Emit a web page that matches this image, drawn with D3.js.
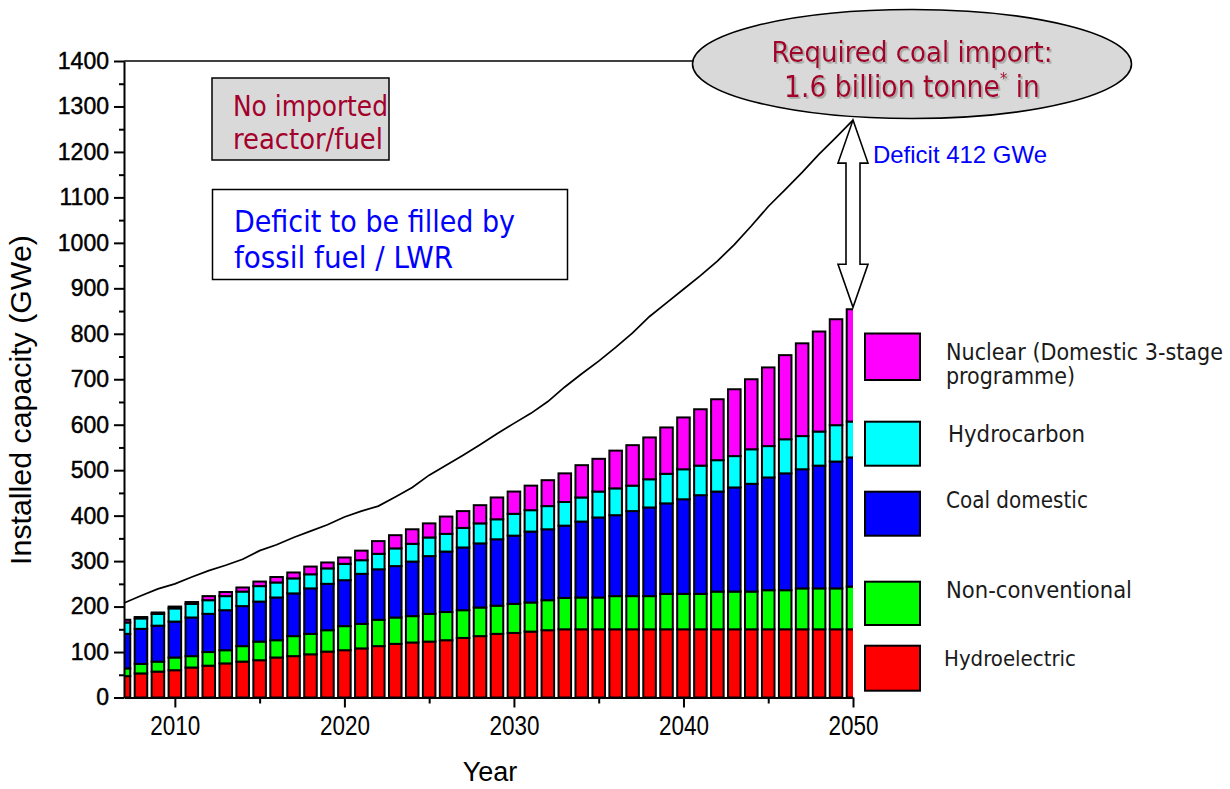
<!DOCTYPE html>
<html><head><meta charset="utf-8">
<script src="https://cdn.jsdelivr.net/npm/d3@7"></script>
<style>body{margin:0;background:#fff} svg{display:block}</style>
</head><body><svg id="c" width="1230" height="789"></svg>
<script>
// ---------------- data ----------------
const years = [2007,2008,2009,2010,2011,2012,2013,2014,2015,2016,2017,2018,2019,2020,2021,2022,2023,2024,2025,2026,2027,2028,
  2029,2030,2031,2032,2033,2034,2035,2036,2037,2038,2039,2040,2041,2042,2043,2044,2045,2046,2047,2048,2049,2050];
const hydroelectric = [47,53,57,60,66,70,75,79,82,88,91,95,101,104,108,113,118,121,123,126,131,135,
  140,142,145,148,150,150,150,150,150,150,150,150,150,150,150,150,150,150,150,150,150,150];
const nonConventional = [17,21,22,28,25,30,29,34,41,38,44,45,47,53,54,58,58,58,61,62,61,63,
  62,64,64,66,69,70,70,73,73,73,78,78,78,83,83,83,86,86,90,90,90,94];
const coalDomestic = [76,77,79,79,85,84,88,88,88,94,94,100,102,101,110,111,113,120,127,133,138,141,
  146,150,156,156,159,167,176,178,187,195,199,208,217,220,229,237,248,257,262,270,279,284];
const hydrocarbon = [25,23,26,29,30,30,31,32,34,33,33,31,34,36,30,34,39,39,41,39,43,44,
  44,48,47,51,52,53,57,59,56,62,65,66,65,69,69,76,69,75,73,75,80,79];
const nuclear = [6,3,3,4,4,9,9,9,10,12,13,17,13,14,21,28,29,32,31,38,37,40,
  48,49,54,57,63,71,72,83,89,92,102,114,124,134,147,154,173,185,204,220,233,247];
const requirement = [208,224,239,250,265,279,291,304,323,336,352,366,380,397,410,421,441,462,489,511,533,556,
  580,603,625,651,683,712,740,770,802,838,868,898,928,960,996,1037,1080,1117,1155,1195,1232,1270];

const seriesNames = ["Hydroelectric","Non-conventional","Coal domestic","Hydrocarbon","Nuclear"];
const seriesColors = ["#ff0000","#00ff00","#0000ff","#00ffff","#ff00ff"];
const legendLabels = [["Nuclear (Domestic 3-stage","programme)"],["Hydrocarbon"],["Coal domestic"],["Non-conventional"],["Hydroelectric"]];
const yTickValues = [0,100,200,300,400,500,600,700,800,900,1000,1100,1200,1300,1400];
const yMinorTicks = [50,150,250,350,450,550,650,750,850,950,1050,1150,1250,1350];
const xTickValues = [2010,2020,2030,2040,2050];
const xMinorTicks = [2015,2025,2035,2045];
const deficitLabel = "Deficit 412 GWe";

// ---------------- layout ----------------
const svg = d3.select("#c");
const X0 = 124, X1 = 853, Y0 = 697.5, Y1 = 61;
const x = d3.scaleLinear().domain([2007, 2050]).range([X0, X1]);
const y = d3.scaleLinear().domain([0, 1400]).range([Y0, Y1]);
const TAHOMA = "'DejaVu Sans Condensed','DejaVu Sans',sans-serif";
const ARIAL = "'Liberation Sans',Arial,sans-serif";

function fit(sel, target) {
  const fs = parseFloat(sel.attr("font-size"));
  const w = sel.node().getComputedTextLength();
  if (w > 0) sel.attr("font-size", (fs * target / w).toFixed(2));
  return sel;
}

const table = years.map((yr, i) => ({
  year: yr,
  "Hydroelectric": hydroelectric[i],
  "Non-conventional": nonConventional[i],
  "Coal domestic": coalDomestic[i],
  "Hydrocarbon": hydrocarbon[i],
  "Nuclear": nuclear[i]
}));
const stacked = d3.stack().keys(seriesNames)(table);

const defs = svg.append("defs");
defs.append("clipPath").attr("id", "plotclip")
  .append("rect").attr("x", X0).attr("y", 0).attr("width", X1 - X0).attr("height", Y0);
defs.append("filter").attr("id", "shadow").attr("x", "-5%").attr("y", "-20%").attr("width", "110%").attr("height", "140%")
  .append("feDropShadow").attr("dx", 1.8).attr("dy", 1.8).attr("stdDeviation", 0.3)
  .attr("flood-color", "#a8a8a8").attr("flood-opacity", 1);

const step = x(2008) - x(2007);
const bw = step * 0.74;
const bars = svg.append("g").attr("clip-path", "url(#plotclip)");
stacked.forEach((s, k) => {
  bars.append("g").attr("fill", seriesColors[k])
    .selectAll("rect").data(s).join("rect")
    .attr("x", d => x(d.data.year) - bw / 2)
    .attr("width", bw)
    .attr("y", d => y(d[1]))
    .attr("height", d => y(d[0]) - y(d[1]))
    .attr("stroke", "#000").attr("stroke-width", 2);
});

// requirement line
svg.append("path").datum(years.map((yr, i) => [yr, requirement[i]]))
  .attr("fill", "none").attr("stroke", "#000").attr("stroke-width", 1.7)
  .attr("d", d3.line().x(d => x(d[0])).y(d => y(d[1])));

// axes
const yAxis = svg.append("g").attr("transform", `translate(${X0},0)`)
  .call(d3.axisLeft(y).tickValues(yTickValues).tickSize(10).tickSizeOuter(0).tickPadding(5).tickFormat(d3.format("d")));
svg.append("g").attr("transform", `translate(${X0},0)`)
  .call(d3.axisLeft(y).tickValues(yMinorTicks).tickSize(5).tickFormat("")).select(".domain").remove();
yAxis.selectAll("text").attr("font-family", ARIAL).attr("font-size", 23).attr("fill", "#000")
  .attr("stroke", "#000").attr("stroke-width", 0.45);

const xAxis = svg.append("g").attr("transform", `translate(0,${Y0})`)
  .call(d3.axisBottom(x).tickValues(xTickValues).tickSize(10).tickSizeOuter(0).tickPadding(8).tickFormat(d3.format("d")));
svg.append("g").attr("transform", `translate(0,${Y0})`)
  .call(d3.axisBottom(x).tickValues(xMinorTicks).tickSize(6).tickFormat("")).select(".domain").remove();
xAxis.selectAll("text").attr("font-family", ARIAL).attr("font-size", 27).attr("fill", "#000")
  .attr("textLength", 50).attr("lengthAdjust", "spacingAndGlyphs");
svg.selectAll(".domain").attr("stroke-width", 2);
svg.selectAll(".tick line").attr("stroke-width", 2);

// top frame line
svg.append("line").attr("x1", X0).attr("x2", X1).attr("y1", Y1).attr("y2", Y1)
  .attr("stroke", "#000").attr("stroke-width", 1.6);

// axis titles
fit(svg.append("text").attr("transform", "translate(31,400) rotate(-90)")
  .attr("text-anchor", "middle").attr("font-family", ARIAL).attr("font-size", 27)
  .text("Installed capacity (GWe)"), 330);
svg.append("text").attr("x", 490).attr("y", 781).attr("text-anchor", "middle")
  .attr("font-family", ARIAL).attr("font-size", 27).text("Year");

// text boxes
svg.append("rect").attr("x", 212).attr("y", 78).attr("width", 177).attr("height", 82)
  .attr("fill", "#d9d9d9").attr("stroke", "#000").attr("stroke-width", 1.5);
fit(svg.append("text").attr("x", 233).attr("y", 116).attr("font-family", TAHOMA).attr("font-size", 24)
  .attr("fill", "#a3002b").text("No imported"), 155);
fit(svg.append("text").attr("x", 233).attr("y", 149).attr("font-family", TAHOMA).attr("font-size", 24)
  .attr("fill", "#a3002b").text("reactor/fuel"), 150);

svg.append("rect").attr("x", 212.5).attr("y", 189.5).attr("width", 355).attr("height", 90)
  .attr("fill", "#fff").attr("stroke", "#000").attr("stroke-width", 1.5);
fit(svg.append("text").attr("x", 234).attr("y", 231.5).attr("font-family", TAHOMA).attr("font-size", 28)
  .attr("fill", "#0000ff").text("Deficit to be filled by"), 281);
fit(svg.append("text").attr("x", 234).attr("y", 268).attr("font-family", TAHOMA).attr("font-size", 28)
  .attr("fill", "#0000ff").text("fossil fuel / LWR"), 219);

// ellipse
svg.append("ellipse").attr("cx", 912).attr("cy", 64).attr("rx", 219.5).attr("ry", 54.5)
  .attr("fill", "#d9d9d9").attr("stroke", "#000").attr("stroke-width", 1.6);
fit(svg.append("text").attr("x", 912).attr("y", 61.7).attr("text-anchor", "middle")
  .attr("font-family", TAHOMA).attr("font-size", 28).attr("fill", "#a3002b").attr("filter", "url(#shadow)")
  .text("Required coal import:"), 281);
const l2 = svg.append("text").attr("x", 912).attr("y", 96.7).attr("text-anchor", "middle")
  .attr("font-family", TAHOMA).attr("font-size", 28).attr("fill", "#a3002b").attr("filter", "url(#shadow)");
l2.append("tspan").text("1.6 billion tonne");
l2.append("tspan").attr("font-size", "0.55em").attr("dy", "-0.8em").text("*");
l2.append("tspan").attr("dy", "0.44em").text(" in");
fit(l2, 256);

// deficit arrow
const ax = x(2050);
const yTopA = y(requirement[requirement.length - 1]);
const lastStack = stacked[stacked.length - 1];
const yBotA = y(lastStack[lastStack.length - 1][1]) - 2;
const hl = 43, hw = 15, sw = 7;
svg.append("path").attr("fill", "#fff").attr("stroke", "#000").attr("stroke-width", 1.6)
  .attr("stroke-linejoin", "miter")
  .attr("d", `M${ax},${yTopA} L${ax + hw},${yTopA + hl} L${ax + sw},${yTopA + hl} L${ax + sw},${yBotA - hl}
    L${ax + hw},${yBotA - hl} L${ax},${yBotA} L${ax - hw},${yBotA - hl} L${ax - sw},${yBotA - hl}
    L${ax - sw},${yTopA + hl} L${ax - hw},${yTopA + hl} Z`);
fit(svg.append("text").attr("x", 873).attr("y", 162.5).attr("font-family", ARIAL).attr("font-size", 21)
  .attr("fill", "#0000ff").text(deficitLabel), 174);

// legend
const legendBoxes = [[333.5, 380], [421.7, 465.7], [491.7, 535.7], [581.7, 625], [645.7, 690.7]];
const legendText = [[[360, 277], [384, 129]], [[442.3, 137]], [[508.3, 142]], [[597.7, 186]], [[665.7, 132]]];
const legendX = [946, 948, 946, 946, 944];
const legendOrder = [4, 3, 2, 1, 0];
legendOrder.forEach((k, i) => {
  const [t0, t1] = legendBoxes[i];
  svg.append("rect").attr("x", 865).attr("y", t0).attr("width", 55).attr("height", t1 - t0)
    .attr("fill", seriesColors[k]).attr("stroke", "#000").attr("stroke-width", 2);
  legendLabels[i].forEach((lab, j) => {
    const [yb, w] = legendText[i][j];
    fit(svg.append("text").attr("x", legendX[i]).attr("y", yb).attr("font-family", TAHOMA)
      .attr("font-size", 20).attr("fill", "#1a1a1a").text(lab), w);
  });
});
</script></body></html>
